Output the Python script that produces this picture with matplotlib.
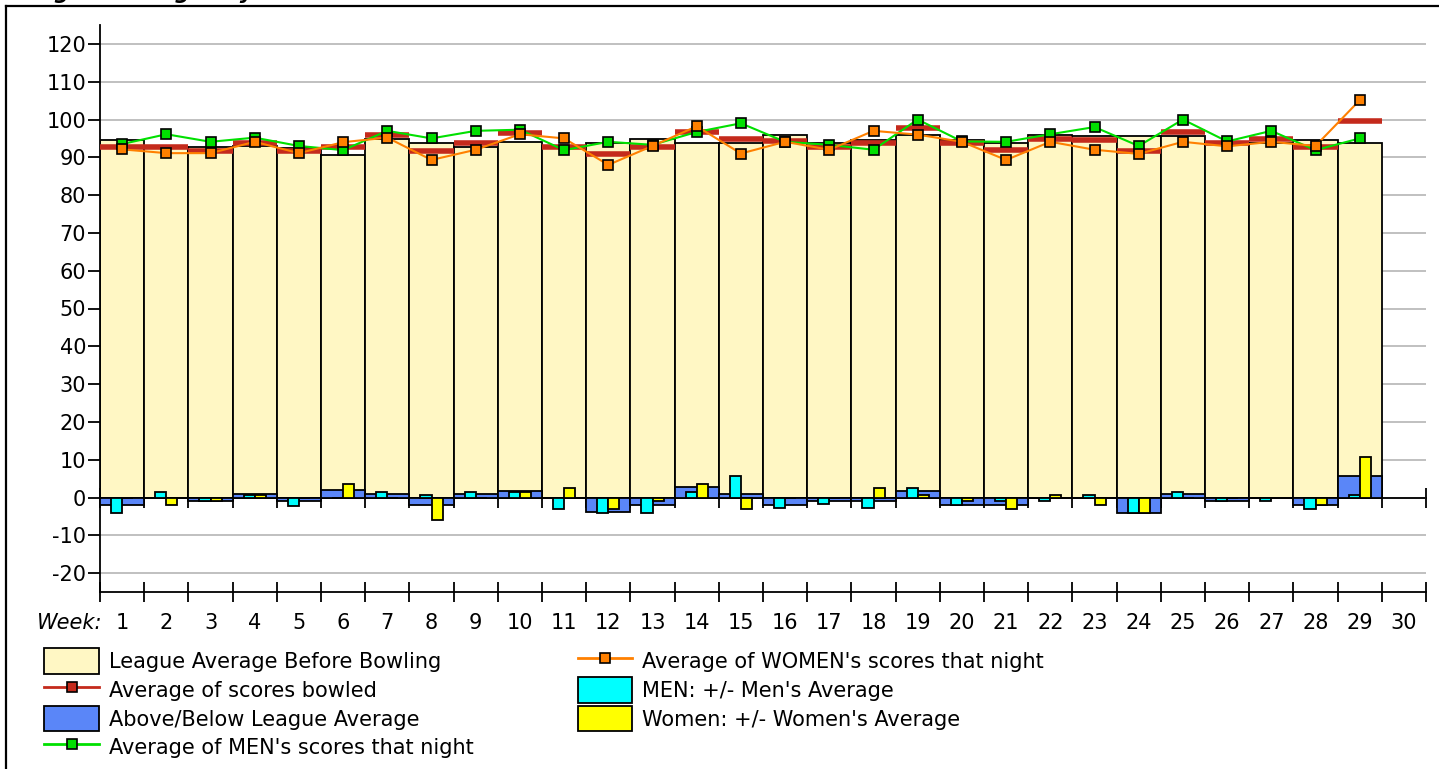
import numpy as np
import matplotlib
matplotlib.use("Agg")
import matplotlib.pyplot as plt
from matplotlib.patches import Patch
from matplotlib.lines import Line2D

plt.rcParams['font.family'] = ['DejaVu Sans']
plt.rcParams['font.size'] = 15
plt.rcParams['axes.unicode_minus'] = False

# weekly values (weeks 1..29, week 30 not bowled yet)
weeks = np.arange(1, 30)
week_labels = [str(i) for i in range(1, 31)]

league_avg = [94.6, 92.8, 92.6, 93.0, 92.5, 90.7, 94.8, 93.8, 92.8, 94.1,
              93.0, 93.9, 94.8, 93.8, 93.8, 95.8, 93.9, 94.7, 95.9, 94.6,
              93.7, 95.9, 95.7, 95.7, 95.7, 93.9, 93.9, 94.6, 93.9]
scores_avg = [92.7, 92.7, 91.7, 93.8, 91.7, 92.7, 95.9, 91.7, 93.8, 96.5,
              92.7, 90.8, 92.7, 96.7, 94.8, 94.2, 92.7, 93.8, 97.8, 93.8,
              91.8, 94.8, 94.6, 91.7, 96.6, 93.7, 94.8, 92.6, 99.7]
above_below = [-2.0, 0.0, -1.0, 0.8, -1.0, 2.0, 1.0, -2.0, 1.0, 1.8,
               0.0, -3.8, -2.0, 2.7, 1.0, -2.0, -1.0, -1.0, 1.8, -2.0,
               -2.0, 0.0, 0.0, -4.2, 1.0, -1.0, 0.0, -2.0, 5.6]
men_avg = [93.5, 96.1, 94.1, 95.2, 93.0, 91.9, 97.0, 95.0, 97.0, 97.3,
           91.9, 94.1, 93.3, 96.7, 99.0, 94.1, 93.3, 92.0, 100.0, 94.2,
           94.1, 96.1, 98.0, 93.0, 100.0, 94.2, 97.0, 91.9, 95.0]
women_avg = [92.1, 91.1, 91.1, 94.1, 91.1, 94.0, 95.2, 89.3, 92.0, 96.1,
             95.0, 88.0, 93.0, 98.2, 91.0, 94.1, 92.0, 97.0, 96.0, 94.1,
             89.3, 94.1, 92.0, 90.9, 94.1, 92.9, 94.1, 93.0, 105.1]
men_diff = [-4.0, 1.5, -1.0, 0.6, -2.2, 0.0, 1.5, 0.7, 1.5, 1.5,
            -3.0, -4.0, -4.0, 1.5, 5.6, -2.8, -1.8, -2.8, 2.5, -2.0,
            -1.0, -1.0, 0.7, -4.0, 1.5, -1.0, -1.0, -3.0, 0.7]
women_diff = [0.0, -2.0, -1.0, 0.6, 0.0, 3.6, 0.0, -6.0, 0.0, 1.5,
              2.6, -3.0, -1.0, 3.6, -3.0, 0.0, 0.0, 2.6, 0.7, -1.0,
              -3.0, 0.7, -2.0, -4.0, 0.0, 0.0, 0.0, -2.0, 10.7]

cream = '#FFF7C4'
blue = '#5A86F8'
red = '#C42A1C'
green = '#00E000'
orange = '#FF8000'
cyan = '#00FFFF'
yellow = '#FFFF00'

W, H = 1439, 769
fig = plt.figure(figsize=(W / 100, H / 100), dpi=100)
ax = fig.add_axes([100 / W, 1 - 592 / H, (1426 - 100) / W, (592 - 25) / H])

centers = weeks - 0.5
ax.bar(centers, league_avg, width=1, color=cream, edgecolor='black', linewidth=1.3, zorder=2)
ax.bar(centers, above_below, width=1, color=blue, edgecolor='black', linewidth=1.3, zorder=3)
ax.bar(centers - 0.125, men_diff, width=0.25, color=cyan, edgecolor='black', linewidth=1.3, zorder=4)
ax.bar(centers + 0.125, women_diff, width=0.25, color=yellow, edgecolor='black', linewidth=1.3, zorder=4)
ax.hlines(scores_avg, weeks - 1, weeks, colors=red, linewidth=4, zorder=5)
ax.plot(centers, men_avg, color=green, lw=1.5, marker='s', ms=6.5, mfc=green, mec='black', mew=1.2, zorder=6)
ax.plot(centers, women_avg, color=orange, lw=1.5, marker='s', ms=6.5, mfc=orange, mec='black', mew=1.2, zorder=7)

ax.set_xlim(0, 30)
ax.set_ylim(-25, 125)
ax.set_yticks(range(-20, 121, 10))
ax.set_xticks(range(0, 31))
ax.set_xticklabels([])
ax.set_xticks(np.arange(0.5, 30), minor=True)
ax.set_xticklabels(week_labels, minor=True)

ax.yaxis.grid(True, color='#C0C0C0', linewidth=1.4)
ax.set_axisbelow(True)

ax.spines['right'].set_visible(False)
ax.spines['top'].set_position(('data', 0))
for s in ('left', 'bottom', 'top'):
    ax.spines[s].set_linewidth(1.3)
ax.xaxis.set_ticks_position('both')
ax.tick_params(axis='x', which='major', direction='inout', length=14, width=1.3,
               top=True, bottom=True, labeltop=False, labelbottom=False)
ax.tick_params(axis='x', which='minor', length=0, pad=15, top=False, labeltop=False)
ax.tick_params(axis='y', direction='out', length=9, width=1.3, pad=1)

ax.annotate('Week:', xy=(0, 0), xycoords='axes fraction', xytext=(1.5, -15),
            textcoords='offset points', ha='right', va='top', style='italic')

handles = [
    Patch(facecolor=cream, edgecolor='black', linewidth=1.3),
    Line2D([], [], color=red, lw=2, marker='s', ms=7, mfc=red, mec='black', mew=1.2),
    Patch(facecolor=blue, edgecolor='black', linewidth=1.3),
    Line2D([], [], color=green, lw=2, marker='s', ms=7, mfc=green, mec='black', mew=1.2),
    Line2D([], [], color=orange, lw=2, marker='s', ms=7, mfc=orange, mec='black', mew=1.2),
    Patch(facecolor=cyan, edgecolor='black', linewidth=1.3),
    Patch(facecolor=yellow, edgecolor='black', linewidth=1.3),
]
labels = ['League Average Before Bowling', 'Average of scores bowled',
          'Above/Below League Average', "Average of MEN's scores that night",
          "Average of WOMEN's scores that night", "MEN: +/- Men's Average",
          "Women: +/- Women's Average"]
fig.legend(handles, labels, ncol=2, loc='upper left', bbox_to_anchor=(34 / W, 1 - 638 / H),
           frameon=False, borderpad=0, handlelength=2.6, handleheight=1.5,
           handletextpad=0.5, labelspacing=0.16, columnspacing=5.0, fontsize=15)

# outer frame (top and left) and the title clipped at the top edge
fig.add_artist(Line2D([6 / W, 1], [1 - 5.5 / H] * 2, transform=fig.transFigure, color='black', lw=1.6))
fig.add_artist(Line2D([6 / W] * 2, [0, 1 - 5.5 / H], transform=fig.transFigure, color='black', lw=1.6))
fig.text(12 / W, 1 + 1.5 / H, 'League Averages by Week', fontsize=15.3, fontweight='bold',
         style='italic', va='baseline', ha='left')

fig.savefig('out.png', dpi=100)
